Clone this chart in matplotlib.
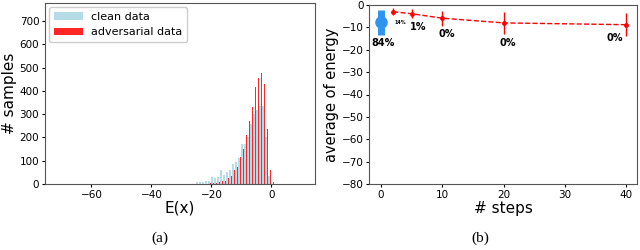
import numpy as np
import matplotlib
matplotlib.use("Agg")
import matplotlib.pyplot as plt

# (a) histogram counts, bins of width 1 from -25 to 1
bin_left = list(range(-25, 1))
clean_counts = [8, 10, 8, 12, 15, 30, 25, 28, 60, 40, 50, 60, 85, 95, 110,
                170, 172, 200, 257, 300, 318, 335, 335, 200, 35, 0]
adv_counts = [0, 0, 1, 2, 3, 4, 6, 8, 12, 15, 25, 35, 60, 75, 118,
              150, 210, 270, 330, 415, 455, 478, 430, 236, 60, 10]

# (b) average energy vs attack steps
steps = [2, 5, 10, 20, 40]
energy = [-3.0, -3.9, -5.9, -8.0, -8.8]
energy_err = [1.6, 2.0, 3.3, 4.9, 5.2]
clean_energy = -7.7
clean_err = 5.6
pct_labels = ["84%", "14%", "1%", "0%", "0%", "0%"]
pct_x = [0.3, 3.2, 6.1, 10.7, 20.7, 38.1]
pct_y = [-16.8, -7.7, -9.7, -13.1, -17.0, -14.9]
pct_size = [7, 3.5, 7, 7, 7, 7]

fig = plt.figure(figsize=(6.4, 2.5), dpi=100)
spine_col = "#555555"

ax1 = fig.add_axes([0.070, 0.264, 0.422, 0.724])
left = np.array(bin_left, dtype=float)
ax1.bar(left + 0.3, clean_counts, width=0.6, color="lightblue", alpha=0.9,
        label="clean data")
ax1.bar(left + 0.7, adv_counts, width=0.6, color="red", alpha=0.85,
        label="adversarial data")
ax1.set_xlim(-75.5, 14.5)
ax1.set_ylim(0, 777)
ax1.set_xticks([-60, -40, -20, 0])
ax1.set_yticks(range(0, 800, 100))
ax1.set_xlabel("E(x)", fontsize=11, labelpad=1)
ax1.set_ylabel("# samples", fontsize=11, labelpad=2)
ax1.legend(loc="upper left", fontsize=8, handlelength=2.6,
           borderaxespad=0.4, framealpha=1)

ax2 = fig.add_axes([0.577, 0.264, 0.418, 0.716])
ax2.errorbar(steps, energy, yerr=energy_err, color="red", ls="--", lw=1,
             marker="o", ms=2.5, elinewidth=1)
ax2.errorbar([0], [clean_energy], yerr=[clean_err], color="#2e95ee",
             marker="o", ms=8, elinewidth=5)
for t, x, y, s in zip(pct_labels, pct_x, pct_y, pct_size):
    ax2.text(x, y, t, fontsize=s, fontweight="bold", ha="center", va="center")
ax2.set_xlim(-1.9, 41.7)
ax2.set_ylim(-80, 0)
ax2.set_xticks([0, 10, 20, 30, 40])
ax2.set_yticks(range(-80, 1, 10))
ax2.set_xlabel("# steps", fontsize=11, labelpad=1)
ax2.set_ylabel("average of energy", fontsize=10.5, labelpad=2)

for ax in (ax1, ax2):
    ax.tick_params(labelsize=7.5, length=2.5, pad=1.5, colors="black")
    for sp in ax.spines.values():
        sp.set_color(spine_col)

fig.text(0.25, 0.048, "(a)", fontsize=11, family="Liberation Serif",
         ha="center", va="center")
fig.text(0.75, 0.048, "(b)", fontsize=11, family="Liberation Serif",
         ha="center", va="center")

fig.savefig("out.png", dpi=100)
